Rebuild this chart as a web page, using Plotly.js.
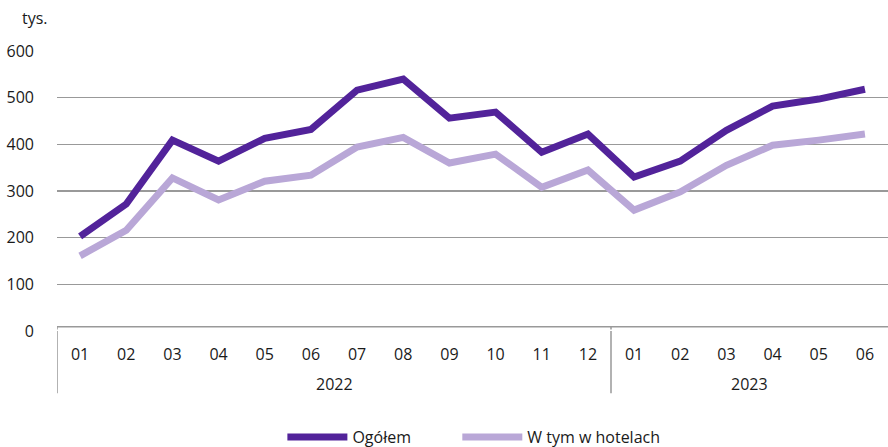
<!DOCTYPE html>
<html><head><meta charset="utf-8">
<script src="https://cdn.plot.ly/plotly-3.0.1.min.js"></script>
<style>html,body{margin:0;padding:0;background:#fff}#c{width:888px;height:447px}</style>
</head><body><div id="c"></div>
<script>
const years = ["2022","2022","2022","2022","2022","2022","2022","2022","2022","2022","2022","2022","2023","2023","2023","2023","2023","2023"];
const months = ["01","02","03","04","05","06","07","08","09","10","11","12","01","02","03","04","05","06"];
const ogolem = [203,272,409,364,413,432,516,540,456,469,383,422,330,364,430,482,497,518];
const hotele = [161,216,328,281,321,334,394,415,360,379,308,345,259,298,355,398,409,422];
const seriesNames = ["Ogółem","W tym w hotelach"];
const font = "Open Sans, sans-serif";
const ink = "#1a1a1a";
const grey = "#999";

const idx = months.map((m,i)=>i);
const traces = [
  {x:idx, y:ogolem, name:seriesNames[0], type:"scatter", mode:"lines", legend:"legend",
   line:{color:"#52239a", width:7}},
  {x:idx, y:hotele, name:seriesNames[1], type:"scatter", mode:"lines", legend:"legend2",
   line:{color:"#b9a7d7", width:7}}
];

// year groups
const groups = [];
years.forEach((y,i)=>{
  const g = groups[groups.length-1];
  if (g && g.year===y) g.end=i; else groups.push({year:y,start:i,end:i});
});
const topY = 0.0155, botY = -0.222;
const shapes = [{type:"line", xref:"x", yref:"paper", x0:-0.5, x1:years.length-0.5, y0:topY, y1:topY,
                 line:{color:grey, width:1.5}}];
groups.forEach(g=>{
  shapes.push({type:"line", xref:"x", yref:"paper", x0:g.start-0.5, x1:g.start-0.5, y0:topY, y1:botY,
               line:{color:grey, width:1.5}});
});
const annotations = groups.map(g=>({text:g.year, xref:"x", yref:"paper", x:(g.start+g.end)/2,
  y:-0.19, yanchor:"middle", showarrow:false, font:{family:font, size:16, color:ink}}));
annotations.push({text:"tys.", xref:"paper", yref:"paper", x:-0.008, y:1.07, xanchor:"right",
  yanchor:"bottom", showarrow:false, font:{family:font, size:16, color:ink}});

const legendBase = {orientation:"h", xanchor:"left", xref:"container",
          y:0.022, yanchor:"middle", yref:"container",
          font:{family:font, size:16, color:ink}, itemwidth:60};
const layout = {
  width:888, height:447,
  margin:{l:57, r:0, t:51, b:116},
  paper_bgcolor:"#fff", plot_bgcolor:"#fff",
  font:{family:font, size:16, color:ink},
  showlegend:true,
  legend:Object.assign({x:0.318}, legendBase),
  legend2:Object.assign({x:0.515}, legendBase),
  xaxis:{range:[-0.5, years.length-0.5], tickvals:idx, ticktext:months, showgrid:false,
         zeroline:false, showline:false, ticks:"", ticklabelstandoff:12,
         tickfont:{family:font, size:16, color:ink}},
  yaxis:{range:[0,600], tickvals:[0,100,200,300,400,500,600], showgrid:true,
         gridcolor:grey, gridwidth:1.5, zeroline:false, showline:false, ticks:"",
         ticklabelstandoff:22,
         tickfont:{family:font, size:16, color:ink}},
  shapes:shapes,
  annotations:annotations
};
layout.shapes.push({type:"line", xref:"paper", yref:"y", x0:0, x1:1, y0:0, y1:0, line:{color:"#fff", width:3}, layer:"above"});
Plotly.newPlot("c", traces, layout, {displayModeBar:false, staticPlot:true});
</script></body></html>
